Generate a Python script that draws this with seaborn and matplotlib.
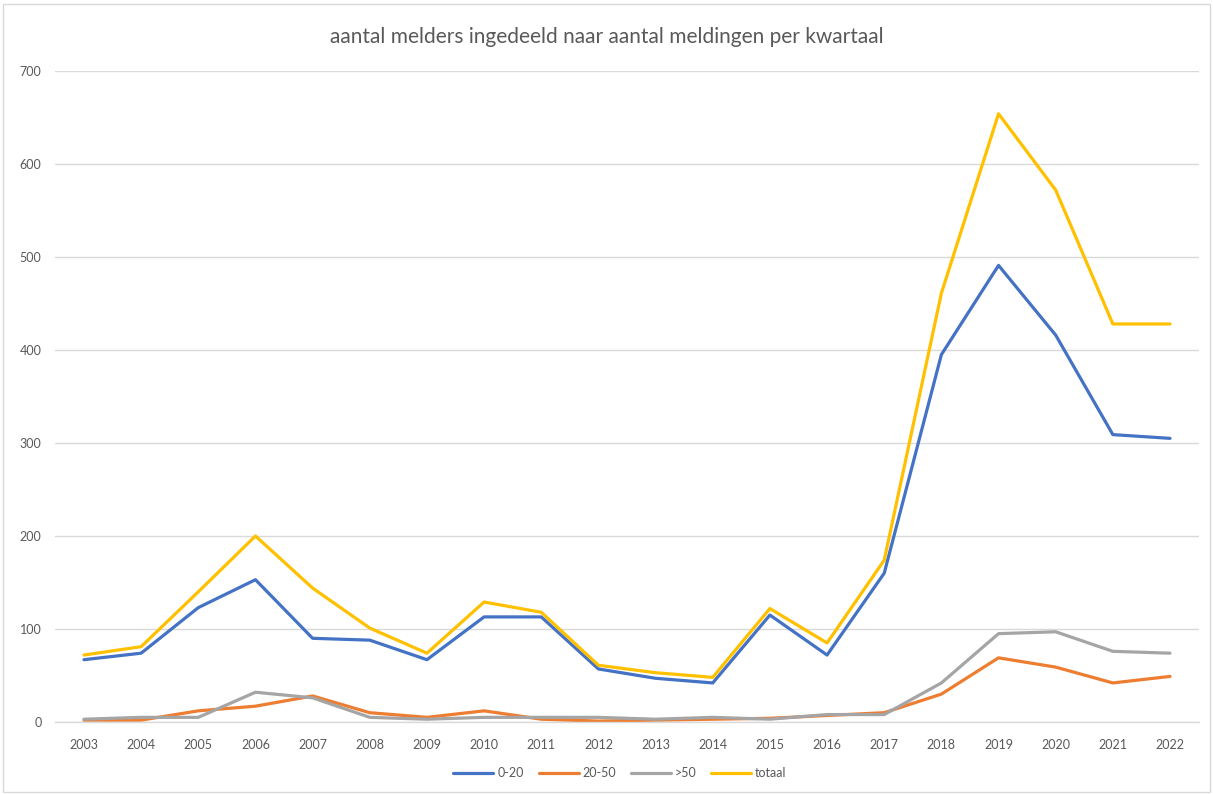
import matplotlib
matplotlib.use("Agg")
import matplotlib.pyplot as plt
import seaborn as sns
import pandas as pd
from matplotlib.patches import Rectangle

years = [str(y) for y in range(2003, 2023)]
s_0_20 = [67, 74, 123, 153, 90, 88, 67, 113, 113, 57, 47, 42, 115, 72, 160, 395, 491, 416, 309, 305]
s_20_50 = [2, 2, 12, 17, 28, 10, 5, 12, 3, 1, 2, 3, 4, 7, 10, 30, 69, 59, 42, 49]
s_gt50 = [3, 5, 5, 32, 26, 5, 3, 5, 5, 5, 3, 5, 3, 8, 8, 42, 95, 97, 76, 74]
s_tot = [72, 81, 140, 200, 144, 101, 74, 129, 118, 61, 53, 48, 122, 85, 174, 461, 654, 572, 428, 428]
series_names = ["0-20", "20-50", ">50", "totaal"]
colors = ["#4472C4", "#ED7D31", "#A5A5A5", "#FFC000"]
yticks = [0, 100, 200, 300, 400, 500, 600, 700]

rows = []
for name, vals in zip(series_names, [s_0_20, s_20_50, s_gt50, s_tot]):
    for i, (y, v) in enumerate(zip(years, vals)):
        rows.append({"pos": i, "year": y, "serie": name, "value": v})
df = pd.DataFrame(rows)

sns.set_theme(style="white")
plt.rcParams["font.family"] = ["Lato", "DejaVu Sans"]

fig = plt.figure(figsize=(12.13, 7.94), dpi=100)
ax = fig.add_axes([55.4 / 1213, 1 - 722 / 794, (1198.6 - 55.4) / 1213, (722 - 71) / 794])

sns.lineplot(data=df, x="pos", y="value", hue="serie", hue_order=series_names,
             palette=colors, linewidth=2.3, ax=ax, legend=False)

ax.set_xlim(-0.5, len(years) - 0.5)
ax.set_ylim(0, 700)
ax.set_xticks(range(len(years)))
ax.set_xticklabels(years)
ax.set_yticks(yticks)
ax.set_yticklabels([str(t) for t in yticks])
ax.tick_params(axis="both", length=0, labelsize=9, labelcolor="#595959")
ax.tick_params(axis="x", pad=12)
ax.tick_params(axis="y", pad=10)
ax.set_xlabel("")
ax.set_ylabel("")
ax.grid(axis="y", color="#D9D9D9", linewidth=1)
ax.set_axisbelow(True)
for side in ["top", "right", "left"]:
    ax.spines[side].set_visible(False)
ax.spines["bottom"].set_color("#D9D9D9")
ax.spines["bottom"].set_linewidth(1)

fig.text(0.5, 1 - 37 / 794, "aantal melders ingedeeld naar aantal meldingen per kwartaal",
         ha="center", va="center", fontsize=15, color="#595959")

handles = [plt.Line2D([], [], color=c, linewidth=2.3) for c in colors]
fig.legend(handles, series_names, loc="center", bbox_to_anchor=(620 / 1213, 1 - 773 / 794),
           ncol=4, frameon=False, fontsize=9, labelcolor="#595959",
           handlelength=3.2, handletextpad=0.3, columnspacing=1.2)

fig.patches.append(Rectangle((3 / 1213, 2 / 794), 1 - 6 / 1213, 1 - 6 / 794,
                             transform=fig.transFigure, fill=False,
                             edgecolor="#D9D9D9", linewidth=1))

fig.savefig("out.png", dpi=100)
